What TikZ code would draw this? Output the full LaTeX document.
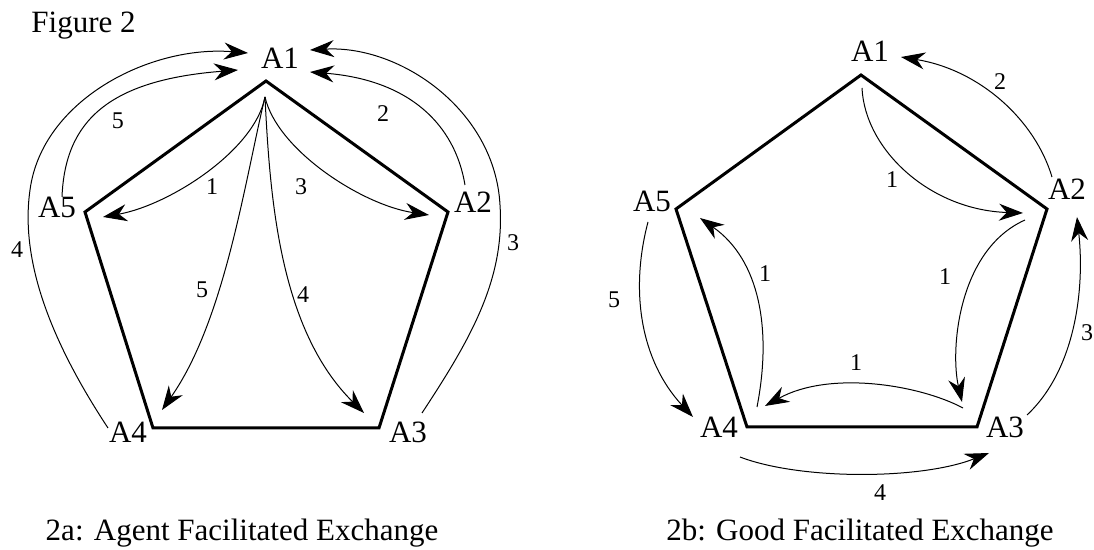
\documentclass[tikz,border=0pt]{standalone}
\usepackage{fontspec}
\setmainfont{Liberation Serif}
\usetikzlibrary{arrows.meta}

\begin{document}
\begin{tikzpicture}[
	x=0.5pt, y=-0.5pt,
	>={Stealth[length=12pt, width=8.5pt]},
	% Style for the agent names at the corners
	agent/.style={font=\fontsize{15.5}{18}\selectfont, inner sep=0pt, anchor=base},
	% Style for the order numbers on the arrows
	num/.style={font=\fontsize{12}{14}\selectfont, inner sep=0pt},
	% Style for the pentagon outline
	pent/.style={line width=1.5pt},
	% Style for the exchange arrows
	flow/.style={line width=0.5pt, ->},
	% Style for title and captions
	caption/.style={font=\fontsize{15.5}{18}\selectfont, inner sep=0pt, anchor=base}
	]
	\useasboundingbox (0,0) rectangle (1094,550);
	
	% 1. Title & Captions
	\node[caption, anchor=base west] (title) at (31,33) {Figure 2};
	\node[caption] (capA) at (242,541) {2a: Agent Facilitated Exchange};
	\node[caption] (capB) at (860,541) {2b: Good Facilitated Exchange};
	
	% 2. Left pentagon (2a)
	\coordinate (Lc1) at (266,81);
	\coordinate (Lc2) at (448,212);
	\coordinate (Lc3) at (379,428);
	\coordinate (Lc4) at (153,428);
	\coordinate (Lc5) at (85,212);
	\draw[pent] (Lc1) -- (Lc2) -- (Lc3) -- (Lc4) -- (Lc5) -- cycle;
	
	\node[agent] (L1) at (280,69) {A1};
	\node[agent] (L2) at (473,213) {A2};
	\node[agent] (L3) at (408,443) {A3};
	\node[agent] (L4) at (128,443) {A4};
	\node[agent] (L5) at (57,218) {A5};
	
	% Arrows fanning out of A1
	\coordinate (Lsrc) at (265,97);
	\coordinate (Lt5) at (103,217);
	\coordinate (Lt2) at (429,215);
	\coordinate (Lt4) at (162,410);
	\coordinate (Lt3) at (364,413);
	\draw[flow] (Lsrc) .. controls (255,150) and (170,205) .. (Lt5);
	\draw[flow] (Lsrc) .. controls (277,150) and (362,205) .. (Lt2);
	\draw[flow] (Lsrc) .. controls (245,180) and (225,320) .. (Lt4);
	\draw[flow] (Lsrc) .. controls (270,200) and (280,330) .. (Lt3);
	\node[num] (n1) at (212,187) {1};
	\node[num] (n3) at (301,187) {3};
	\node[num] (n5) at (202,290) {5};
	\node[num] (n4) at (303,295) {4};
	
	% Arcs returning to A1 from outside
	\coordinate (L5up) at (62,197);
	\coordinate (L1a) at (238,70);
	\coordinate (L2up) at (465,185);
	\coordinate (L1b) at (310,72);
	\coordinate (L4up) at (108,428);
	\coordinate (L1c) at (248,53);
	\coordinate (L3up) at (422,413);
	\coordinate (L1d) at (310,50);
	\draw[flow] (L5up) .. controls (65,120) and (110,80) .. (L1a);
	\draw[flow] (L2up) .. controls (455,125) and (410,80) .. (L1b);
	\draw[flow] (L4up) .. controls (50,340) and (20,260) .. (30,190)
		.. controls (42,100) and (150,45) .. (L1c);
	\draw[flow] (L3up) .. controls (470,340) and (505,280) .. (500,205)
		.. controls (495,110) and (400,45) .. (L1d);
	\node[num] (m5) at (118,121) {5};
	\node[num] (m2) at (383,114) {2};
	\node[num] (m4) at (17,250) {4};
	\node[num] (m3) at (513,243) {3};
	
	% 3. Right pentagon (2b)
	\coordinate (Rc1) at (861,75);
	\coordinate (Rc2) at (1047,209);
	\coordinate (Rc3) at (977,427);
	\coordinate (Rc4) at (747,427);
	\coordinate (Rc5) at (676,209);
	\draw[pent] (Rc1) -- (Rc2) -- (Rc3) -- (Rc4) -- (Rc5) -- cycle;
	
	\node[agent] (R1) at (870,62) {A1};
	\node[agent] (R2) at (1067,200) {A2};
	\node[agent] (R3) at (1005,438) {A3};
	\node[agent] (R4) at (719,438) {A4};
	\node[agent] (R5) at (652,212) {A5};
	
	% Inner ring of good passing
	\coordinate (R1src) at (862,88);
	\coordinate (R2in) at (1023,213);
	\coordinate (R2src) at (1025,220);
	\coordinate (R3in) at (962,402);
	\coordinate (R3src) at (963,408);
	\coordinate (R4in) at (765,406);
	\coordinate (R4src) at (757,407);
	\coordinate (R5in) at (700,218);
	\draw[flow] (R1src) .. controls (865,150) and (930,210) .. (R2in);
	\draw[flow] (R2src) .. controls (958,250) and (950,350) .. (R3in);
	\draw[flow] (R3src) .. controls (920,385) and (830,370) .. (R4in);
	\draw[flow] (R4src) .. controls (772,330) and (760,260) .. (R5in);
	\node[num] (k1) at (892,180) {1};
	\node[num] (k2) at (945,277) {1};
	\node[num] (k3) at (856,363) {1};
	\node[num] (k4) at (765,274) {1};
	
	% Outer ring
	\coordinate (R2up) at (1052,177);
	\coordinate (R1in) at (901,57);
	\coordinate (R5dn) at (648,222);
	\coordinate (R4out) at (693,417);
	\coordinate (R4dn) at (740,457);
	\coordinate (R3out) at (989,453);
	\coordinate (R3up) at (1027,415);
	\coordinate (R2out) at (1077,217);
	\draw[flow] (R2up) .. controls (1035,120) and (980,70) .. (R1in);
	\draw[flow] (R5dn) .. controls (630,290) and (640,360) .. (R4out);
	\draw[flow] (R4dn) .. controls (800,480) and (920,480) .. (R3out);
	\draw[flow] (R3up) .. controls (1075,370) and (1085,290) .. (R2out);
	\node[num] (j2) at (1000,82) {2};
	\node[num] (j5) at (614,300) {5};
	\node[num] (j4) at (880,493) {4};
	\node[num] (j3) at (1087,333) {3};
	
\end{tikzpicture}
\end{document}
